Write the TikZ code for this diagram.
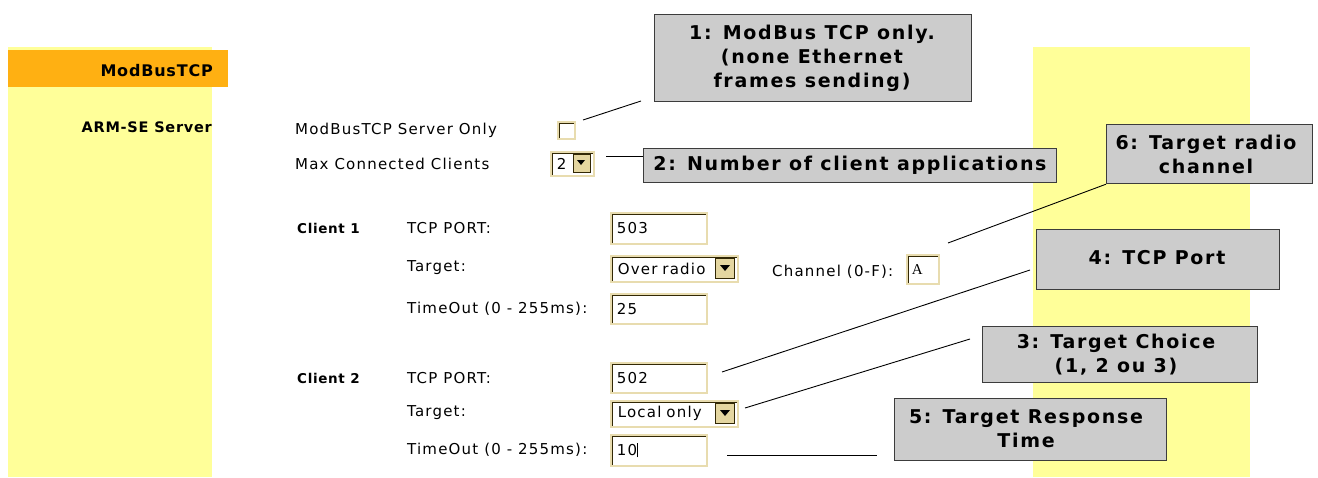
\documentclass[tikz,border=0pt]{standalone}
\usepackage{fontspec}
\setmainfont{DejaVu Sans}
\newfontfamily\uifont[LetterSpace=8]{DejaVu Sans}
\newfontfamily\menufont[LetterSpace=5]{DejaVu Sans}
\newfontfamily\callfont[LetterSpace=9]{DejaVu Sans}
\newfontfamily\monofnt{Liberation Serif}
\definecolor{yel}{RGB}{255,255,153}
\definecolor{orng}{RGB}{255,176,18}
\definecolor{calfill}{RGB}{204,204,204}
\definecolor{calline}{RGB}{60,60,60}
\definecolor{beige}{RGB}{232,220,175}
\definecolor{darkin}{RGB}{50,40,5}
\definecolor{btn}{RGB}{228,214,160}
\begin{document}
\begin{tikzpicture}[x=1pt,y=-1pt,
  menu/.style={anchor=east, inner sep=0pt, font=\menufont\bfseries\fontsize{14.5}{16}\selectfont},
  lbl/.style={anchor=west, inner sep=0pt, font=\uifont\fontsize{15}{17}\selectfont},
  blbl/.style={anchor=west, inner sep=0pt, font=\menufont\bfseries\fontsize{13.5}{15}\selectfont},
  inbox/.style={anchor=north west, draw=beige, line width=1.6pt, fill=white, inner xsep=6pt, inner ysep=0pt,
     font=\uifont\fontsize{15}{17}\selectfont, align=left,
     path picture={\draw[darkin, line width=4.4pt] (path picture bounding box.south west) -- (path picture bounding box.north west) -- (path picture bounding box.north east);}},
  btnbox/.style={anchor=north west, draw=darkin, line width=0.8pt, fill=btn, inner sep=0pt},
  callout/.style={anchor=north west, draw=calline, line width=1.2pt, fill=calfill, inner sep=0pt},
  ctext/.style={inner sep=0pt, align=center, font=\callfont\bfseries\fontsize{19}{24}\selectfont},
  conn/.style={draw=black, line width=0.9pt}
]
\useasboundingbox (0,0) rectangle (1318,477);
% side panels
\fill[yel] (8,47) rectangle (212,477);
\fill[yel] (1033,47) rectangle (1250,477);
\fill[orng] (8,50) rectangle (228,87);
\node[menu, font=\menufont\bfseries\fontsize{16}{18}\selectfont] (m1) at (213,71) {ModBusTCP};
\node[menu] (m2) at (212,127) {ARM-SE Server};

% form labels
\node[lbl] (l1) at (295,130) {ModBusTCP Server Only};
\node[lbl] (l2) at (295,164) {Max Connected Clients};
\node[blbl] (cl1) at (297,228) {Client 1};
\node[lbl] (tp1) at (407,228) {TCP PORT:};
\node[lbl] (tg1) at (407,268) {Target:};
\node[lbl] (to1) at (407,309) {TimeOut (0 - 255ms):};
\node[lbl] (ch1) at (772,272) {Channel (0-F):};
\node[blbl] (cl2) at (297,378) {Client 2};
\node[lbl] (tp2) at (407,378) {TCP PORT:};
\node[lbl] (tg2) at (407,413) {Target:};
\node[lbl] (to2) at (407,450) {TimeOut (0 - 255ms):};

% checkbox
\node[inbox, minimum width=17pt, minimum height=17pt, inner sep=0pt] (chk) at (557,121) {};
% select 2
\node[inbox, minimum width=43pt, minimum height=24pt, text width=31pt] (sel0) at (550,151) {2};
\node[btnbox, minimum width=17pt, minimum height=18pt] (b0) at (573,154) {};
\fill (577,160) -- (585,160) -- (581,165) -- cycle;

% client 1
\node[inbox, minimum width=96pt, minimum height=31pt, text width=84pt, inner xsep=5pt] (p1) at (610,212) {503};
\node[inbox, minimum width=127pt, minimum height=26pt, text width=113pt, inner xsep=7pt] (s1) at (610,255) {Over radio};
\node[btnbox, minimum width=19pt, minimum height=20pt] (b1) at (715,258) {};
\fill (720,265) -- (730,265) -- (725,271) -- cycle;
\node[inbox, minimum width=32pt, minimum height=29pt, text width=22pt, inner xsep=5pt, font=\monofnt\fontsize{15}{17}\selectfont] (chn) at (906,254) {A};
\node[inbox, minimum width=96pt, minimum height=30pt, text width=84pt, inner xsep=5pt] (t1) at (610,293) {25};

% client 2
\node[inbox, minimum width=96pt, minimum height=30pt, text width=84pt, inner xsep=5pt] (p2) at (610,362) {502};
\node[inbox, minimum width=127pt, minimum height=26pt, text width=113pt, inner xsep=7pt] (s2) at (610,400) {Local only};
\node[btnbox, minimum width=19pt, minimum height=20pt] (b2) at (715,403) {};
\fill (720,410) -- (730,410) -- (725,416) -- cycle;
\node[inbox, minimum width=96pt, minimum height=31pt, text width=84pt, inner xsep=5pt] (t2) at (610,434) {10\rule[-2pt]{0.8pt}{14pt}};

% callouts
\node[callout, minimum width=317pt, minimum height=87pt] (c1) at (654,14) {};
\node[ctext] (c1t) at (812,58) {1: ModBus TCP only.\\(none Ethernet\\frames sending)};
\node[callout, minimum width=413pt, minimum height=34pt] (c2) at (643,148) {};
\node[ctext] (c2t) at (850,165) {2: Number of client applications};
\node[callout, minimum width=206pt, minimum height=59pt] (c6) at (1106,124) {};
\node[ctext] (c6t) at (1206,154) {6: Target radio\\channel};
\node[callout, minimum width=243pt, minimum height=60pt] (c4) at (1036,229) {};
\node[ctext] (c4t) at (1157,258) {4: TCP Port};
\node[callout, minimum width=275pt, minimum height=56pt] (c3) at (982,326) {};
\node[ctext] (c3t) at (1116,355) {3: Target Choice\\(1, 2 ou 3)};
\node[callout, minimum width=272pt, minimum height=62pt] (c5) at (894,398) {};
\node[ctext] (c5t) at (1026,429) {5: Target Response\\Time};

% connectors
\coordinate (s1p) at (583,120);
\coordinate (e1) at (641,101);
\coordinate (s2p) at (606,156);
\coordinate (e2) at (643,156);
\coordinate (s6p) at (948,243);
\coordinate (s4p) at (722,372);
\coordinate (e4) at (1030,270);
\coordinate (s3p) at (745,408);
\coordinate (e3) at (970,339);
\coordinate (s5p) at (727,455);
\coordinate (e5) at (877,455);
\draw[conn] (s1p) -- (e1);
\draw[conn] (s2p) -- (e2);
\draw[conn] (s6p) -- (c6.south west);
\draw[conn] (s4p) -- (e4);
\draw[conn] (s3p) -- (e3);
\draw[conn] (s5p) -- (e5);
\end{tikzpicture}
\end{document}
